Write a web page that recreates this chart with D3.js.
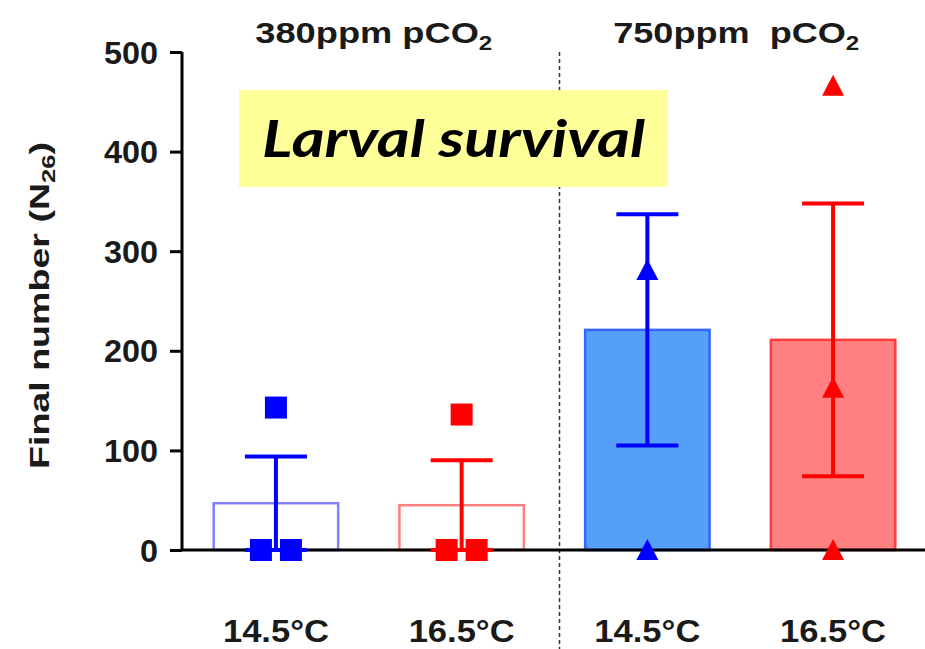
<!DOCTYPE html>
<html>
<head>
<meta charset="utf-8">
<script src="https://cdn.jsdelivr.net/npm/d3@7"></script>
<style>
  html, body { margin: 0; padding: 0; background: #fff; }
  svg { display: block; }
  text { font-family: "Liberation Sans", Arial, sans-serif; font-weight: bold; fill: #1a1a1a; }
</style>
</head>
<body>
<svg id="chart" width="925" height="649"></svg>
<script>
// ---- data ----
const categories = ["14.5°C", "16.5°C", "14.5°C", "16.5°C"];
const co2Groups = ["380ppm", "750ppm"];
const means = [47, 45, 221, 211];
const sems = [47, 45, 116, 137];
const points = [[0, 0, 143], [0, 0, 136], [281, 0], [466, 163, 0]];
const yTicks = [0, 100, 200, 300, 400, 500];
const markerShape = ["square", "square", "triangle", "triangle"];
const seriesColor = ["#0000ff", "#ff0000", "#0000ff", "#ff0000"];
const barFill = ["none", "none", "#559ffa", "#ff8080"];
const barStroke = ["#8080ff", "#ff8080", "#3366ff", "#ff3b3b"];

// ---- layout ----
const svg = d3.select("#chart");
const axisX = 182, axisRight = 925;
const y = d3.scaleLinear().domain([0, 500]).range([550, 52]);
const x = d3.scaleBand().domain(d3.range(categories.length))
  .range([184, 925]).paddingInner(0.33).paddingOuter(0.16);
const bw = x.bandwidth();
const cx = i => x(i) + bw / 2;

// dashed separator (behind the title box)
const sepX = (cx(1) + cx(2)) / 2 + 5;
svg.append("line").attr("x1", sepX).attr("x2", sepX).attr("y1", 52).attr("y2", 649)
  .attr("stroke", "#333").attr("stroke-width", 1.5).attr("stroke-dasharray", "4,3");

// Title box
svg.append("rect").attr("x", 239).attr("y", 90).attr("width", 429).attr("height", 97)
  .attr("fill", "#ffff99");
svg.append("text").attr("x", 262).attr("y", 157)
  .style("font-family", "Lato, 'Open Sans', sans-serif")
  .style("font-style", "italic").style("font-weight", "bold")
  .style("font-size", "52px").style("fill", "#000")
  .attr("textLength", 383).attr("lengthAdjust", "spacingAndGlyphs")
  .text("Larval survival");

// bars
svg.selectAll("rect.bar").data(means).join("rect").attr("class", "bar")
  .attr("x", (d, i) => x(i)).attr("width", bw)
  .attr("y", d => y(d)).attr("height", d => y(0) - y(d))
  .attr("fill", (d, i) => barFill[i]).attr("stroke", (d, i) => barStroke[i])
  .attr("stroke-width", 2.5);

// axes
const yAxis = svg.append("g").attr("transform", `translate(${axisX},0)`)
  .call(d3.axisLeft(y).tickValues(yTicks).tickSize(12).tickPadding(12));
yAxis.select(".domain").attr("stroke", "#000").attr("stroke-width", 3)
  .attr("d", `M0,${y(500)}V${y(0)}`);
yAxis.selectAll(".tick line").attr("stroke", "#000").attr("stroke-width", 3);
yAxis.selectAll(".tick text").style("font-size", "31px").style("fill", "#1a1a1a")
  .attr("dy", "0.36em")
  .attr("textLength", d => String(d).length * 18).attr("lengthAdjust", "spacingAndGlyphs");

svg.append("line").attr("x1", axisX - 1.5).attr("x2", axisRight).attr("y1", y(0)).attr("y2", y(0))
  .attr("stroke", "#000").attr("stroke-width", 3);

// x labels
svg.selectAll("text.xlab").data(categories).join("text").attr("class", "xlab")
  .attr("x", (d, i) => cx(i)).attr("y", 642).attr("text-anchor", "middle")
  .style("font-size", "31px")
  .attr("textLength", 106).attr("lengthAdjust", "spacingAndGlyphs")
  .text(d => d);

// group labels
co2Groups.forEach((g, k) => {
  const mid = (cx(2 * k) + cx(2 * k + 1)) / 2 + (k === 0 ? 5 : -4);
  const len = k === 0 ? 237 : 246;
  const t = svg.append("text").attr("x", mid - len / 2).attr("y", 43)
    .style("font-size", "30px")
    .attr("textLength", len).attr("lengthAdjust", "spacingAndGlyphs");
  t.append("tspan").text(g + (k === 0 ? " pCO" : "\u00a0\u00a0pCO"));
  t.append("tspan").attr("dy", 7).style("font-size", "20px").text("2");
});

// y label
const yl = svg.append("text").attr("transform", "translate(49,306) rotate(-90)")
  .attr("x", -163).attr("y", 0)
  .style("font-size", "28px")
  .attr("textLength", 327).attr("lengthAdjust", "spacingAndGlyphs");
yl.append("tspan").text("Final number (N");
yl.append("tspan").attr("dy", 6).style("font-size", "19px").text("26");
yl.append("tspan").attr("dy", -6).text(")");

// error bars
const cap = 31;
means.forEach((m, i) => {
  const g = svg.append("g").attr("stroke", seriesColor[i]).attr("stroke-width", 4);
  const lo = m - sems[i], hi = m + sems[i];
  g.append("line").attr("x1", cx(i)).attr("x2", cx(i)).attr("y1", y(hi)).attr("y2", y(lo));
  g.append("line").attr("x1", cx(i) - cap).attr("x2", cx(i) + cap).attr("y1", y(hi)).attr("y2", y(hi));
  g.append("line").attr("x1", cx(i) - cap).attr("x2", cx(i) + cap).attr("y1", y(lo)).attr("y2", y(lo));
});

// points
points.forEach((vals, i) => {
  const seen = {};
  const counts = {};
  vals.forEach(v => counts[v] = (counts[v] || 0) + 1);
  vals.forEach(v => {
    const n = counts[v];
    const k = seen[v] = (seen[v] === undefined ? 0 : seen[v] + 1);
    const px = cx(i) + (n > 1 ? (k - (n - 1) / 2) * 30 : 0);
    const py = y(v);
    if (markerShape[i] === "square") {
      svg.append("rect").attr("x", px - 11).attr("y", py - 11).attr("width", 22).attr("height", 22)
        .attr("fill", seriesColor[i]);
    } else {
      svg.append("path")
        .attr("d", `M${px},${py - 11}L${px + 11},${py + 10}L${px - 11},${py + 10}Z`)
        .attr("fill", seriesColor[i]);
    }
  });
});
</script>
</body>
</html>
